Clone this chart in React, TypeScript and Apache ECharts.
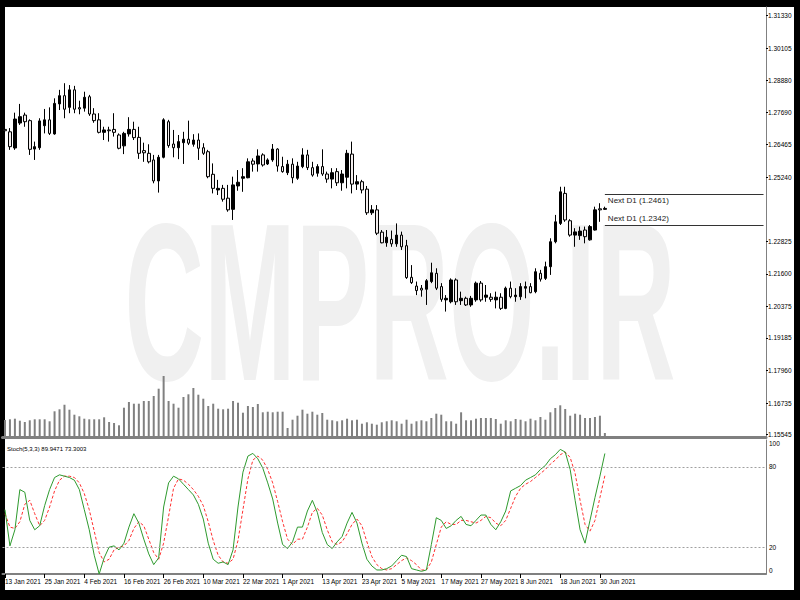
import React, { useEffect, useRef } from "react";
import * as echarts from "echarts";

const tickLabels = [
  "13 Jan 2021", "25 Jan 2021", "4 Feb 2021", "16 Feb 2021", "26 Feb 2021", "10 Mar 2021",
  "22 Mar 2021", "1 Apr 2021", "13 Apr 2021", "23 Apr 2021", "5 May 2021", "17 May 2021",
  "27 May 2021", "8 Jun 2021", "18 Jun 2021", "30 Jun 2021",
];
const priceTicks = [1.3133, 1.30105, 1.2888, 1.2769, 1.26465, 1.2524, 1.22825, 1.216, 1.20375, 1.19185, 1.1796, 1.16735, 1.15545];
const stochTicks = [0, 20, 80, 100];

const openP = [
  1.2704, 1.2695, 1.2634, 1.2728, 1.2758, 1.2737, 1.2630, 1.2635, 1.2718, 1.2740,
  1.2687, 1.2800, 1.2831, 1.2787, 1.2853, 1.2786, 1.2784, 1.2827, 1.2762, 1.2740,
  1.2693, 1.2702, 1.2704, 1.2683, 1.2642, 1.2687, 1.2704, 1.2674, 1.2624, 1.2614,
  1.2589, 1.2510, 1.2599, 1.2733, 1.2649, 1.2635, 1.2654, 1.2667, 1.2648, 1.2664,
  1.2635, 1.2620, 1.2535, 1.2476, 1.2482, 1.2445, 1.2403, 1.2491, 1.2520, 1.2522,
  1.2585, 1.2574, 1.2608, 1.2574, 1.2589, 1.2630, 1.2564, 1.2541, 1.2573, 1.2520,
  1.2564, 1.2608, 1.2560, 1.2539, 1.2564, 1.2536, 1.2517, 1.2545, 1.2503, 1.2524,
  1.2611, 1.2498, 1.2507, 1.2479, 1.2390, 1.2401, 1.2317, 1.2277, 1.2290, 1.2273,
  1.2306, 1.2266, 1.2147, 1.2114, 1.2106, 1.2102, 1.2131, 1.2162, 1.2112, 1.2062,
  1.2055, 1.2137, 1.2059, 1.2068, 1.2043, 1.2062, 1.2125, 1.2072, 1.2072, 1.2062,
  1.2072, 1.2030, 1.2106, 1.2074, 1.2074, 1.2106, 1.2112, 1.2093, 1.2162, 1.2143,
  1.2187, 1.2281, 1.2350, 1.2463, 1.2360, 1.2306, 1.2304, 1.2325, 1.2288, 1.2325,
  1.2405, 1.2403,
];
const highP = [
  1.2714, 1.2709, 1.2767, 1.2800, 1.2767, 1.2742, 1.2658, 1.2746, 1.2781, 1.2787,
  1.2821, 1.2853, 1.2878, 1.2871, 1.2868, 1.2812, 1.2846, 1.2834, 1.2784, 1.2765,
  1.2714, 1.2714, 1.2765, 1.2689, 1.2695, 1.2750, 1.2733, 1.2714, 1.2654, 1.2648,
  1.2608, 1.2608, 1.2746, 1.2740, 1.2702, 1.2683, 1.2695, 1.2737, 1.2686, 1.2689,
  1.2652, 1.2627, 1.2576, 1.2514, 1.2495, 1.2495, 1.2526, 1.2551, 1.2558, 1.2595,
  1.2595, 1.2629, 1.2614, 1.2595, 1.2649, 1.2633, 1.2601, 1.2589, 1.2595, 1.2582,
  1.2633, 1.2627, 1.2582, 1.2573, 1.2629, 1.2545, 1.2558, 1.2558, 1.2551, 1.2627,
  1.2658, 1.2532, 1.2514, 1.2491, 1.2419, 1.2419, 1.2325, 1.2325, 1.2323, 1.2350,
  1.2319, 1.2288, 1.2193, 1.2131, 1.2118, 1.2140, 1.2202, 1.2181, 1.2125, 1.2080,
  1.2143, 1.2143, 1.2093, 1.2074, 1.2077, 1.2131, 1.2133, 1.2118, 1.2087, 1.2093,
  1.2087, 1.2112, 1.2131, 1.2106, 1.2125, 1.2131, 1.2125, 1.2181, 1.2175, 1.2206,
  1.2294, 1.2382, 1.2488, 1.2488, 1.2366, 1.2332, 1.2338, 1.2338, 1.2344, 1.2413,
  1.2426, 1.2413,
];
const lowP = [
  1.2689, 1.2627, 1.2627, 1.2721, 1.2714, 1.2608, 1.2589, 1.2627, 1.2689, 1.2683,
  1.2684, 1.2777, 1.2746, 1.2765, 1.2765, 1.2761, 1.2771, 1.2755, 1.2729, 1.2689,
  1.2664, 1.2658, 1.2677, 1.2629, 1.2611, 1.2677, 1.2664, 1.2593, 1.2582, 1.2576,
  1.2501, 1.2466, 1.2595, 1.2635, 1.2599, 1.2592, 1.2574, 1.2645, 1.2639, 1.2589,
  1.2608, 1.2520, 1.2463, 1.2457, 1.2432, 1.2394, 1.2363, 1.2473, 1.2469, 1.2520,
  1.2545, 1.2545, 1.2564, 1.2570, 1.2582, 1.2545, 1.2541, 1.2532, 1.2501, 1.2514,
  1.2558, 1.2551, 1.2526, 1.2526, 1.2529, 1.2503, 1.2482, 1.2491, 1.2473, 1.2482,
  1.2463, 1.2476, 1.2463, 1.2382, 1.2382, 1.2306, 1.2275, 1.2262, 1.2262, 1.2262,
  1.2250, 1.2141, 1.2122, 1.2080, 1.2074, 1.2043, 1.2125, 1.2099, 1.2055, 1.2018,
  1.2049, 1.2043, 1.2043, 1.2039, 1.2036, 1.2055, 1.2055, 1.2055, 1.2055, 1.2030,
  1.2024, 1.2027, 1.2068, 1.2055, 1.2062, 1.2068, 1.2087, 1.2087, 1.2131, 1.2137,
  1.2156, 1.2275, 1.2344, 1.2356, 1.2300, 1.2262, 1.2288, 1.2275, 1.2285, 1.2323,
  1.2356, 1.2401,
];
const closeP = [
  1.2699, 1.2639, 1.2743, 1.2752, 1.2733, 1.2629, 1.2639, 1.2736, 1.2740, 1.2689,
  1.2802, 1.2831, 1.2780, 1.2853, 1.2780, 1.2781, 1.2825, 1.2762, 1.2737, 1.2693,
  1.2702, 1.2699, 1.2693, 1.2633, 1.2689, 1.2704, 1.2673, 1.2614, 1.2616, 1.2582,
  1.2510, 1.2599, 1.2740, 1.2643, 1.2635, 1.2658, 1.2667, 1.2652, 1.2664, 1.2633,
  1.2614, 1.2526, 1.2482, 1.2482, 1.2441, 1.2401, 1.2495, 1.2505, 1.2526, 1.2582,
  1.2573, 1.2604, 1.2570, 1.2589, 1.2630, 1.2566, 1.2545, 1.2573, 1.2522, 1.2566,
  1.2608, 1.2560, 1.2532, 1.2564, 1.2536, 1.2517, 1.2541, 1.2503, 1.2536, 1.2614,
  1.2498, 1.2507, 1.2476, 1.2390, 1.2401, 1.2313, 1.2277, 1.2298, 1.2273, 1.2306,
  1.2262, 1.2146, 1.2127, 1.2097, 1.2099, 1.2134, 1.2164, 1.2106, 1.2064, 1.2068,
  1.2137, 1.2055, 1.2068, 1.2043, 1.2068, 1.2125, 1.2062, 1.2080, 1.2064, 1.2072,
  1.2030, 1.2106, 1.2074, 1.2080, 1.2112, 1.2112, 1.2089, 1.2168, 1.2140, 1.2187,
  1.2281, 1.2356, 1.2469, 1.2363, 1.2306, 1.2318, 1.2321, 1.2300, 1.2338, 1.2401,
  1.2401, 1.24065,
];
const volumes = [
  170, 177, 183, 163, 150, 167, 177, 177, 177, 157, 257, 277, 323, 273, 223, 207, 183, 177, 177, 177,
  197, 150, 140, 117, 293, 350, 333, 333, 360, 360, 410, 483, 610, 360, 333, 293, 400, 427, 490, 423,
  383, 310, 333, 283, 277, 283, 360, 343, 243, 310, 300, 330, 247, 253, 247, 253, 253, 90, 173, 213,
  273, 233, 253, 223, 240, 173, 167, 157, 167, 183, 167, 173, 133, 147, 133, 123, 147, 157, 167, 157,
  133, 173, 133, 157, 167, 157, 190, 233, 223, 157, 157, 133, 247, 167, 167, 183, 190, 190, 190, 180,
  133, 167, 157, 180, 173, 157, 183, 167, 200, 173, 247, 290, 317, 280, 213, 233, 223, 190, 190, 200,
  213, 40,
];
const stochK = [
  48, 21, 33, 63, 61, 40, 33, 36, 51, 63, 72, 74, 73, 72, 70, 63, 48, 33, 14, 0,
  12, 20, 21, 18, 23, 35, 45, 38, 26, 15, 7, 12, 50, 68, 73, 71, 67, 63, 59, 52,
  41, 23, 11, 8, 9, 7, 18, 50, 76, 88, 90, 86, 79, 68, 56, 38, 22, 19, 24, 35,
  35, 47, 55, 46, 31, 22, 19, 24, 28, 38, 46, 38, 23, 11, 6, 3, 3, 4, 6, 10,
  14, 13, 4, 3, 2, 3, 22, 42, 40, 34, 36, 40, 43, 37, 36, 40, 44, 44, 37, 33,
  39, 47, 62, 64, 66, 70, 72, 74, 78, 81, 86, 89, 93, 91, 78, 55, 33, 23, 40, 57,
  73, 89.9471,
];
const stochD = [
  45, 35, 34, 39, 52, 55, 45, 36, 40, 50, 62, 70, 73, 73, 72, 68, 60, 48, 32, 16,
  9, 11, 18, 20, 21, 25, 34, 39, 36, 26, 16, 11, 23, 43, 64, 71, 70, 67, 63, 58,
  51, 39, 25, 14, 9, 8, 11, 25, 48, 71, 85, 88, 85, 78, 68, 54, 39, 26, 22, 26,
  26, 35, 46, 49, 44, 33, 24, 22, 24, 30, 37, 41, 36, 24, 13, 7, 4, 3, 4, 7,
  10, 12, 10, 7, 3, 3, 9, 22, 35, 39, 37, 37, 40, 40, 39, 38, 40, 43, 42, 38,
  36, 40, 49, 58, 64, 67, 69, 72, 75, 78, 82, 85, 89, 91, 87, 75, 55, 37, 32, 40,
  57, 73.3003,
];
const nextD1 = [1.2461, 1.2342];
const lastPrice = 1.24065;
const SLOTS = 154;
const TICK_STEP = 8;

const FONT = "'Liberation Sans', Arial, sans-serif";

export default function App() {
  const ref = useRef<HTMLDivElement>(null);
  useEffect(() => {
    const chart = echarts.init(ref.current!, null, { renderer: "svg" });
    const cats = Array.from({ length: SLOTS }, (_, i) => String(i));
    const candle = openP.map((o, i) => [o, closeP[i], lowP[i], highP[i]]);
    const lastIdx = openP.length - 1;
    const showTick = (i: number) => i % TICK_STEP === 0 && i <= lastIdx;
    const gl = { left: 2.5, right: 34 };
    chart.setOption({
      animation: false,
      textStyle: { fontFamily: FONT },
      grid: [
        { ...gl, top: 7, height: 430 },
        { ...gl, top: 337, height: 100 },
        { ...gl, top: 440, height: 134 },
      ],
      xAxis: [
        {
          gridIndex: 0, type: "category", data: cats, boundaryGap: true,
          axisLine: { show: true, lineStyle: { color: "#808080", width: 3 } },
          axisTick: { show: false }, axisLabel: { show: false }, splitLine: { show: false },
        },
        { gridIndex: 1, type: "category", data: cats, show: false },
        {
          gridIndex: 2, type: "category", data: cats, boundaryGap: true,
          axisLine: { show: true, lineStyle: { color: "#808080", width: 2 } },
          axisTick: { show: true, alignWithLabel: true, interval: (i: number) => showTick(i), length: 4, lineStyle: { color: "#000" } },
          axisLabel: {
            show: true, showMinLabel: true, interval: (i: number) => showTick(i), align: "left", margin: 4,
            fontSize: 6.5, color: "#000", fontFamily: FONT,
            formatter: (_v: string, i: number) => tickLabels[i / TICK_STEP] ?? "",
          },
          splitLine: { show: false },
        },
      ],
      yAxis: [
        {
          gridIndex: 0, type: "value", position: "right", min: 1.15456, max: 1.3165, scale: true,
          axisLine: { show: true, lineStyle: { color: "#808080", width: 1 } },
          axisTick: { show: true, length: 2, customValues: priceTicks, lineStyle: { color: "#000" } },
          axisLabel: { show: true, customValues: priceTicks, formatter: (v: number) => v.toFixed(5), fontSize: 6.5, color: "#000", margin: 2, fontFamily: FONT },
          splitLine: { show: false },
        },
        { gridIndex: 1, type: "value", min: 0, max: 1000, show: false },
        {
          gridIndex: 2, type: "value", position: "right", min: 0, max: 100,
          axisLine: { show: true, lineStyle: { color: "#808080", width: 1 } },
          axisTick: { show: false },
          axisLabel: {
            show: true, customValues: stochTicks, fontSize: 6.5, color: "#000", margin: 3, fontFamily: FONT,
            verticalAlignMaxLabel: "top", verticalAlignMinLabel: "bottom",
          },
          splitLine: { show: false },
        },
      ],
      series: [
        {
          type: "candlestick", xAxisIndex: 0, yAxisIndex: 0, data: candle, barWidth: 3, z: 3,
          itemStyle: { color: "#000", color0: "#f3eeee", borderColor: "#000", borderColor0: "#000", borderWidth: 1 },
          markLine: {
            silent: true, symbol: ["none", "none"], animation: false,
            lineStyle: { color: "#333", width: 1, type: "solid" },
            data: [
              [
                { coord: [String(lastIdx), nextD1[0]], label: { show: true, position: "insideStartBottom", distance: 3, formatter: `Next D1 (${nextD1[0]})`, color: "#222", fontSize: 8, fontFamily: FONT } },
                { coord: [String(SLOTS - 1), nextD1[0]] },
              ],
              [
                { coord: [String(lastIdx), nextD1[1]], label: { show: true, position: "insideStartTop", distance: 3, formatter: `Next D1 (${nextD1[1]})`, color: "#222", fontSize: 8, fontFamily: FONT } },
                { coord: [String(SLOTS - 1), nextD1[1]] },
              ],
              {
                yAxis: lastPrice, lineStyle: { opacity: 0 },
                label: { show: true, position: "end", distance: 1, formatter: lastPrice.toFixed(5), color: "#fff", backgroundColor: "#000", padding: [2, 2, 1, 2], fontSize: 6.5, fontFamily: FONT },
              },
            ],
          },
        },
        {
          type: "bar", xAxisIndex: 1, yAxisIndex: 1, data: volumes, barWidth: 2, z: 2,
          itemStyle: { color: "#808080" },
        },
        {
          type: "line", xAxisIndex: 2, yAxisIndex: 2, data: stochK, symbol: "none", z: 4,
          lineStyle: { color: "#2e9a2e", width: 1 },
          markLine: {
            silent: true, symbol: ["none", "none"], label: { show: false },
            lineStyle: { color: "#a0a0a0", width: 1, type: [2, 2] },
            data: [{ yAxis: 20 }, { yAxis: 80 }],
          },
        },
        {
          type: "line", xAxisIndex: 2, yAxisIndex: 2, data: stochD, symbol: "none", z: 3,
          lineStyle: { color: "#ff3030", width: 1, type: [3, 2] },
        },
      ],
      graphic: [
        {
          type: "text", x: 400, y: 303, z: 1, scaleX: 0.49, silent: true,
          style: { text: "CMPRO.IR", fontSize: 225, fontWeight: "bold", fontFamily: "'Liberation Sans', Arial, sans-serif", fill: "#f0f0f0", align: "center", verticalAlign: "middle" },
        },
        {
          type: "text", x: 7, y: 446, z: 5, silent: true,
          style: { text: "Stoch(5,3,3) 89.9471 73.3003", fontSize: 6, fontFamily: FONT, fill: "#000" },
        },
      ],
    });
    return () => chart.dispose();
  }, []);
  return (
    <div style={{ position: "fixed", left: 0, top: 0, width: 800, height: 600, background: "#000" }}>
      <div style={{ position: "absolute", left: 5, top: 7, width: 789, height: 583, background: "#fff" }} />
      <div ref={ref} style={{ position: "absolute", left: 0, top: 0, width: 800, height: 600 }} />
    </div>
  );
}
